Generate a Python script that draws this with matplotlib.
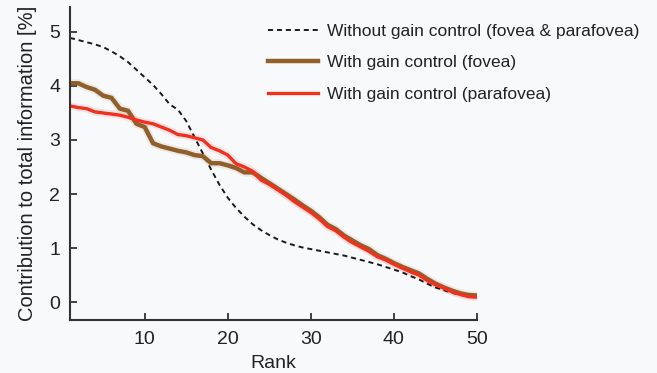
#!/usr/bin/env python3
"""Contribution of each ranked component to total information, with/without gain control."""

import matplotlib
matplotlib.use("Agg")
import matplotlib.pyplot as plt
import numpy as np

# --- data ----------------------------------------------------------------
rank = np.arange(1, 51)

without_gain = [
    4.89, 4.85, 4.81, 4.77, 4.72, 4.64, 4.55, 4.44, 4.30, 4.16,
    4.02, 3.85, 3.66, 3.56, 3.35, 3.05, 2.75, 2.45, 2.17, 1.93,
    1.74, 1.58, 1.44, 1.33, 1.24, 1.16, 1.10, 1.05, 1.01, 0.98,
    0.95, 0.92, 0.89, 0.86, 0.82, 0.78, 0.74, 0.70, 0.65, 0.60,
    0.55, 0.48, 0.42, 0.34, 0.27, 0.22, 0.17, 0.13, 0.11, 0.09,
]

gain_fovea = [
    4.05, 4.05, 3.98, 3.93, 3.82, 3.78, 3.58, 3.54, 3.30, 3.24,
    2.94, 2.88, 2.84, 2.80, 2.77, 2.72, 2.70, 2.57, 2.57, 2.53,
    2.48, 2.40, 2.40, 2.30, 2.20, 2.10, 2.00, 1.90, 1.79, 1.69,
    1.57, 1.43, 1.35, 1.23, 1.14, 1.05, 0.98, 0.87, 0.80, 0.72,
    0.65, 0.59, 0.53, 0.43, 0.34, 0.27, 0.21, 0.16, 0.13, 0.12,
]

gain_parafovea = [
    3.63, 3.60, 3.58, 3.52, 3.50, 3.48, 3.46, 3.42, 3.37, 3.33,
    3.30, 3.24, 3.18, 3.10, 3.08, 3.04, 3.00, 2.86, 2.80, 2.72,
    2.56, 2.50, 2.42, 2.26, 2.18, 2.08, 1.98, 1.86, 1.76, 1.66,
    1.54, 1.40, 1.32, 1.20, 1.10, 1.02, 0.94, 0.84, 0.78, 0.70,
    0.63, 0.56, 0.50, 0.40, 0.32, 0.26, 0.19, 0.14, 0.10, 0.09,
]

x_ticks = [10, 20, 30, 40, 50]
y_ticks = [0, 1, 2, 3, 4, 5]

BG = "#f8f9fb"
COL_DASH = "#1a1a1a"
COL_FOVEA = "#8f5f2c"
COL_PARA = "#f2301e"
AXIS = "#333333"
TEXT = "#222222"

plt.rcParams.update({
    "font.family": ["Liberation Sans", "DejaVu Sans"],
    "font.size": 14,
})

fig = plt.figure(figsize=(6.57, 3.73), dpi=100, facecolor=BG)
ax = fig.add_axes([0.1065, 0.142, 0.6195, 0.839], facecolor=BG)

# soft halos under the coloured lines, like the blurry original
ax.plot(rank, gain_fovea, color=COL_FOVEA, lw=6.0, alpha=0.10,
        solid_joinstyle="round", solid_capstyle="round")
ax.plot(rank, gain_parafovea, color=COL_PARA, lw=5.5, alpha=0.10,
        solid_joinstyle="round", solid_capstyle="round")

ax.plot(rank, without_gain, color=COL_DASH, lw=1.4, ls=(0, (2.6, 2.0)),
        label="Without gain control (fovea & parafovea)")
ax.plot(rank, gain_fovea, color=COL_FOVEA, lw=3.2,
        solid_joinstyle="round", label="With gain control (fovea)")
ax.plot(rank, gain_parafovea, color=COL_PARA, lw=2.4,
        solid_joinstyle="round", label="With gain control (parafovea)")

ax.set_xlim(1, 50)
ax.set_ylim(-0.333, 5.46)
ax.set_xticks(x_ticks)
ax.set_yticks(y_ticks)

for side in ("top", "right"):
    ax.spines[side].set_visible(False)
for side in ("left", "bottom"):
    ax.spines[side].set_color(AXIS)
    ax.spines[side].set_linewidth(1.5)
ax.tick_params(direction="in", length=5, width=1.3, color=AXIS,
               labelsize=14, labelcolor=TEXT, pad=7)
ax.tick_params(axis="x", pad=8)

ax.set_xlabel("Rank", fontsize=14, color=TEXT, labelpad=5)
ax.set_ylabel("Contribution to total information [%]", fontsize=14.5,
              color=TEXT, labelpad=9)

fig.legend(loc="upper left", bbox_to_anchor=(0.408, 0.937),
           frameon=False, fontsize=12.5, handlelength=2.9,
           handletextpad=0.5, labelspacing=0.95, labelcolor=TEXT,
           borderpad=0, borderaxespad=0)

fig.savefig("out.png", dpi=100, facecolor=BG)
